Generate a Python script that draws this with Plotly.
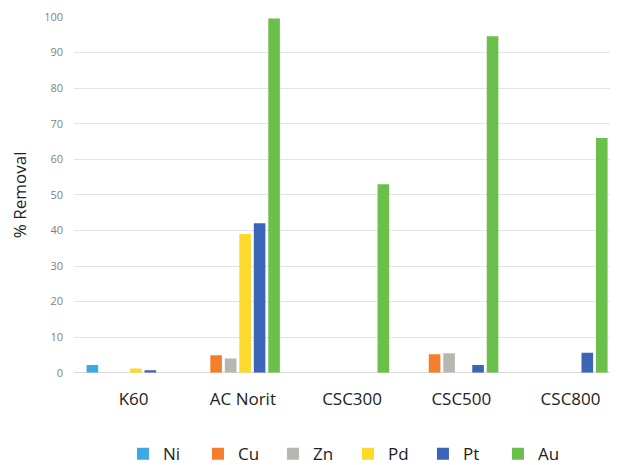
import plotly.graph_objects as go

categories = ["K60", "AC Norit", "CSC300", "CSC500", "CSC800"]
metals = ["Ni", "Cu", "Zn", "Pd", "Pt", "Au"]
ni = [2.2, 0, 0, 0, 0]
cu = [0, 4.9, 0, 5.2, 0]
zn = [0, 4.0, 0, 5.5, 0]
pd_ = [1.2, 39.0, 0, 0, 0]
pt = [0.7, 42.0, 0, 2.2, 5.6]
au = [0, 99.6, 53.0, 94.6, 66.0]
series = [ni, cu, zn, pd_, pt, au]
colors = ["#3DA8E4", "#F57E2D", "#B8B6B1", "#FCD92B", "#3C65B7", "#6BBF4B"]
y_ticks = [0, 10, 20, 30, 40, 50, 60, 70, 80, 90, 100]

fig = go.Figure()
for name, vals, col in zip(metals, series, colors):
    fig.add_trace(go.Bar(name=name, x=categories, y=vals, marker_color=col,
                         marker_line_width=0))

FONT = "Open Sans"
# the page body adds an 8px margin, so the figure is sized to fit the window
fig.update_layout(
    width=610, height=457,
    margin=dict(l=66, r=0, t=9, b=0, autoexpand=False),
    paper_bgcolor="white", plot_bgcolor="white",
    barmode="group", bargap=0.204, bargroupgap=0.2,
    font=dict(family=FONT, color="#222222"),
    showlegend=True,
    legend=dict(orientation="h", x=0.09, xanchor="left", y=0.024, yanchor="middle",
                font=dict(family=FONT, size=17, color="#222222"),
                entrywidth=30, entrywidthmode="pixels", traceorder="normal",
                itemwidth=30, bgcolor="rgba(0,0,0,0)"),
    xaxis=dict(range=[-0.5, 4.48], showgrid=False, showline=False, ticks="",
               tickfont=dict(family=FONT, size=17, color="#222222"),
               ticklabelstandoff=14, ticklabelshift=5, zeroline=False, automargin=False),
    yaxis=dict(range=[0, 100], domain=[0.206, 1], tickvals=y_ticks, showgrid=True,
               gridcolor="#E4E4E4", automargin=False,
               gridwidth=1, zeroline=True, zerolinecolor="#DADADA", zerolinewidth=1,
               showline=False, ticks="",
               tickfont=dict(family=FONT, size=11, color="#7F7F7F"),
               ticklabelstandoff=10,
               title=dict(text="% Removal", font=dict(family=FONT, size=17, color="#222222"),
                          standoff=18)),
)

fig.write_html("out.html")
